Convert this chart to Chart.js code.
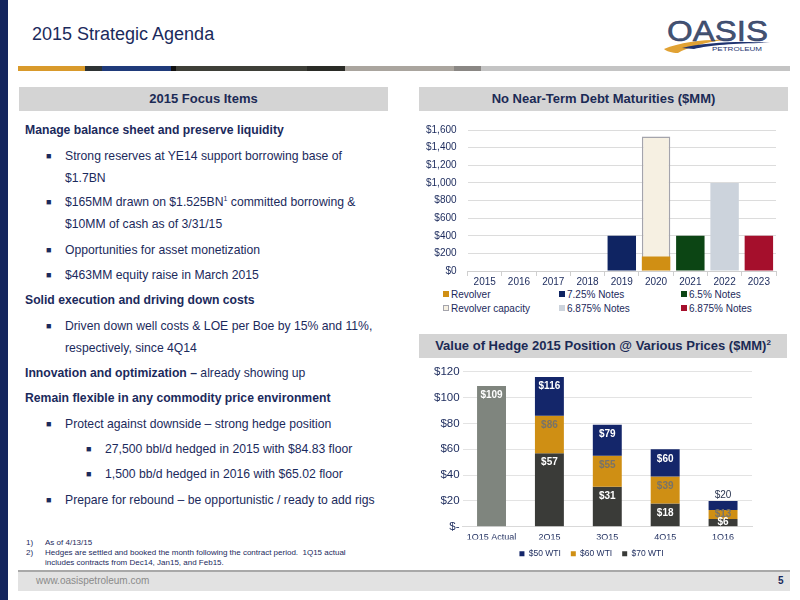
<!DOCTYPE html>
<html>
<head>
<meta charset="utf-8">
<script src="https://cdn.jsdelivr.net/npm/chart.js"></script>
<style>
body{margin:0;width:800px;height:600px;position:relative;background:#fff;overflow:hidden;
  font-family:"Liberation Sans",Arial,sans-serif;color:#1b2a5c}
.abs{position:absolute;white-space:nowrap}
.stripe{left:0;top:0;width:8px;height:600px;background:#14265e}
.title{left:32px;top:24px;font-size:18px;color:#1b2a5c}
.seg{position:absolute;top:66px;height:5px}
.hdr{background:#d4d4d4;height:24px;line-height:24px;text-align:center;font-weight:bold;font-size:13px;color:#1b2a55}
.ln{position:absolute;font-size:12.2px;line-height:16px;white-space:nowrap}
.b{font-weight:bold}
.bul{position:absolute;font-size:9px;line-height:16px}
sup{font-size:7px;line-height:0}
.fn{position:absolute;font-size:8px;line-height:10px;color:#1b2a5c;white-space:nowrap}
.lg{position:absolute;font-size:10px;line-height:12px;color:#1b2a5c;white-space:nowrap}
.lg i{display:inline-block;width:6px;height:6px;margin-right:2px;vertical-align:1px;box-sizing:border-box}
</style>
</head>
<body>
<div class="abs stripe"></div>
<div class="abs title">2015 Strategic Agenda</div>

<svg class="abs" style="left:660px;top:12px" width="130" height="50">
  <path d="M4 37 C 20 30, 50 27, 64 28 C 45 30, 26 36, 18 41 C 12 41, 6 39, 4 37 Z" fill="#e1a234"/>
  <path d="M22 36 C 45 30, 85 29, 110 31 C 80 31, 50 33, 34 37 Z" fill="#1f3370"/>
  <text x="7" y="29" font-family="Liberation Sans, Arial" font-size="29" fill="#46546c" stroke="#1f3370" stroke-width="0.5" textLength="101" lengthAdjust="spacingAndGlyphs">OASIS</text>
  <text x="52" y="39" font-family="Liberation Sans, Arial" font-size="5.5" fill="#1f3370" textLength="50" lengthAdjust="spacingAndGlyphs">PETROLEUM</text>
</svg>

<div class="seg" style="left:18px;width:67px;background:#d99a2b"></div>
<div class="seg" style="left:85px;width:17px;background:#2e3334"></div>
<div class="seg" style="left:102px;width:69px;background:#1f3a7a"></div>
<div class="seg" style="left:171px;width:5px;background:#111"></div>
<div class="seg" style="left:176px;width:131px;background:#3e3f38"></div>
<div class="seg" style="left:307px;width:38px;background:#2a2b26"></div>
<div class="seg" style="left:345px;width:109px;background:#aaa59e"></div>
<div class="seg" style="left:454px;width:27px;background:#8a8784"></div>
<div class="seg" style="left:481px;width:309px;background:#c4c4c4"></div>

<div class="abs hdr" style="left:19px;top:87px;width:369px">2015 Focus Items</div>
<div class="abs hdr" style="left:419px;top:87px;width:369px">No Near-Term Debt Maturities ($MM)</div>
<div class="abs hdr" style="left:419px;top:334px;width:368px">Value of Hedge 2015 Position @ Various Prices ($MM)<sup style="font-size:8px">2</sup></div>

<div class="ln b" style="left:25px;top:122px">Manage balance sheet and preserve liquidity</div>
<div class="bul" style="left:46px;top:148px">■</div>
<div class="ln" style="left:65px;top:148px">Strong reserves at YE14 support borrowing base of</div>
<div class="ln" style="left:65px;top:170px">$1.7BN</div>
<div class="bul" style="left:46px;top:194px">■</div>
<div class="ln" style="left:65px;top:194px">$165MM drawn on $1.525BN<sup>1</sup> committed borrowing &amp;</div>
<div class="ln" style="left:65px;top:216px">$10MM of cash as of 3/31/15</div>
<div class="bul" style="left:46px;top:242px">■</div>
<div class="ln" style="left:65px;top:242px">Opportunities for asset monetization</div>
<div class="bul" style="left:46px;top:267px">■</div>
<div class="ln" style="left:65px;top:267px">$463MM equity raise in March 2015</div>
<div class="ln b" style="left:25px;top:292px">Solid execution and driving down costs</div>
<div class="bul" style="left:46px;top:318px">■</div>
<div class="ln" style="left:65px;top:318px">Driven down well costs &amp; LOE per Boe by 15% and 11%,</div>
<div class="ln" style="left:65px;top:340px">respectively, since 4Q14</div>
<div class="ln" style="left:25px;top:365px"><span class="b">Innovation and optimization –</span> already showing up</div>
<div class="ln b" style="left:25px;top:390px">Remain flexible in any commodity price environment</div>
<div class="bul" style="left:46px;top:416px">■</div>
<div class="ln" style="left:65px;top:416px">Protect against downside – strong hedge position</div>
<div class="bul" style="left:86px;top:441px">■</div>
<div class="ln" style="left:105px;top:441px">27,500 bbl/d hedged in 2015 with $84.83 floor</div>
<div class="bul" style="left:86px;top:466px">■</div>
<div class="ln" style="left:105px;top:466px">1,500 bb/d hedged in 2016 with $65.02 floor</div>
<div class="bul" style="left:46px;top:492px">■</div>
<div class="ln" style="left:65px;top:492px">Prepare for rebound – be opportunistic / ready to add rigs</div>

<div class="fn" style="left:26px;top:538px">1)</div>
<div class="fn" style="left:45px;top:538px">As of 4/13/15</div>
<div class="fn" style="left:26px;top:548px">2)</div>
<div class="fn" style="left:45px;top:548px">Hedges are settled and booked the month following the contract period.&nbsp; 1Q15 actual</div>
<div class="fn" style="left:45px;top:558px">includes contracts from Dec14, Jan15, and Feb15.</div>

<div class="abs" style="left:18px;top:570px;width:772px;height:19px;background:#e2e2e2;border-top:2px solid #a8a8a8"></div>
<div class="abs" style="left:36px;top:575px;font-size:10px;color:#8a8a8a">www.oasispetroleum.com</div>
<div class="abs" style="left:778px;top:575px;font-size:10px;font-weight:bold;color:#1b2a5c">5</div>

<div class="abs" style="left:415px;top:113px;width:380px;height:175px"><canvas id="debt"></canvas></div>
<div id="debtLegend"></div>
<div class="abs" style="left:415px;top:362px;width:345px;height:206px"><canvas id="hedge"></canvas></div>

<script>
// Vencimientos de deuda ($MM)
const years = ['2015','2016','2017','2018','2019','2020','2021','2022','2023'];
const revolver         = [null,null,null,null,null,165,null,null,null];
const revolverCapacity = [null,null,null,null,null,1525,null,null,null];
const notes725         = [null,null,null,null,400,null,null,null,null];
const notes65          = [null,null,null,null,null,null,400,null,null];
const notes6875a       = [null,null,null,null,null,null,null,1000,null];
const notes6875b       = [null,null,null,null,null,null,null,null,400];
const debtTicks = [0,200,400,600,800,1000,1200,1400,1600];

// Valor de coberturas ($MM), valores acumulados por escenario
const quarters = ['1Q15 Actual','2Q15','3Q15','4Q15','1Q16'];
const actual = [109,null,null,null,null];
const wti70 = [null,57,31,18,6];
const wti60 = [null,86,55,39,13];
const wti50 = [null,116,79,60,20];

const navyTxt = '#1b2a5c';
const font = 'Liberation Sans, Arial, sans-serif';

const debtSets = [
  {label:'Revolver', data:revolver, backgroundColor:'#d08f14'},
  {label:'Revolver capacity', data:revolverCapacity, backgroundColor:'#f6f0e2', borderColor:'#a4a4ac', borderWidth:1.5},
  {label:'7.25% Notes', data:notes725, backgroundColor:'#0f2462'},
  {label:'6.5% Notes', data:notes65, backgroundColor:'#0c4514'},
  {label:'6.875% Notes', data:notes6875a, backgroundColor:'#ccd3dc'},
  {label:'6.875% Notes', data:notes6875b, backgroundColor:'#a50f2c'}
];

new Chart(document.getElementById('debt'), {
  type:'bar',
  data:{labels:years, datasets:debtSets.map(d => Object.assign({barPercentage:0.83, categoryPercentage:1}, d))},
  options:{
    responsive:true, maintainAspectRatio:false, animation:false,
    layout:{padding:{top:4,right:19,bottom:0,left:0}},
    plugins:{legend:{display:false}, tooltip:{enabled:false}},
    scales:{
      x:{stacked:true,
         grid:{display:true, drawOnChartArea:false, offset:true, tickLength:5, color:'#cfcfcf'},
         border:{color:'#cfcfcf'},
         ticks:{color:navyTxt, font:{family:font,size:10}, padding:0}},
      y:{stacked:false, min:0, max:1600,
         afterBuildTicks: ax => { ax.ticks = debtTicks.map(v => ({value:v})); },
         grid:{color:'#dcdcdc', drawTicks:false},
         border:{display:false},
         ticks:{color:navyTxt, font:{family:font,size:10}, padding:11,
                callback: v => '$' + v.toLocaleString('en-US')}}
    }
  }
});

// leyenda en 3 columnas, como en la lámina
const legOrder = [0,2,3,1,4,5];
const legPos = [[443,289],[559,289],[681,289],[443,303],[559,303],[681,303]];
document.getElementById('debtLegend').innerHTML = legOrder.map((k,i) => {
  const d = debtSets[k];
  const box = d.borderColor ? `background:${d.backgroundColor};border:1px solid ${d.borderColor}` : `background:${d.backgroundColor}`;
  return `<div class="lg" style="left:${legPos[i][0]}px;top:${legPos[i][1]}px"><i style="${box}"></i>${d.label}</div>`;
}).join('');

const hedgeLabels = {
  id:'hedgeLabels',
  afterDatasetsDraw(chart){
    const ctx = chart.ctx;
    ctx.save();
    ctx.textAlign = 'center';
    ctx.textBaseline = 'middle';
    chart.data.datasets.forEach((ds, di) => {
      const meta = chart.getDatasetMeta(di);
      meta.data.forEach((el, i) => {
        const top = ds.tops[i];
        if (top == null) return;
        const h = el.base - el.y;
        let y = el.y + Math.min(9.5, h/2);
        ctx.font = 'bold 10px ' + font;
        ctx.fillStyle = ds.labelColor;
        if (ds.above && h < 14) {
          y = el.y - 6;
          ctx.font = '10px ' + font;
          ctx.fillStyle = '#2a3550';
        }
        ctx.fillText('$' + top, el.x, y);
      });
    });
    ctx.restore();
  }
};

const pairs = (lo, hi) => hi.map((v,i) => v == null ? null : [lo ? lo[i] : 0, v]);

new Chart(document.getElementById('hedge'), {
  type:'bar',
  data:{labels:quarters, datasets:[
    {label:'$50 WTI', data:pairs(wti60, wti50), tops:wti50, backgroundColor:'#14266a', labelColor:'#fff', above:true},
    {label:'$60 WTI', data:pairs(wti70, wti60), tops:wti60, backgroundColor:'#cf8f14', labelColor:'#77736a'},
    {label:'$70 WTI', data:pairs(null, wti70), tops:wti70, backgroundColor:'#3a3b38', labelColor:'#fff'},
    {label:'Actual', data:pairs(null, actual), tops:actual, backgroundColor:'#7f857e', labelColor:'#fff'}
  ].map(d => Object.assign({barPercentage:0.5, categoryPercentage:1}, d))},
  options:{
    responsive:true, maintainAspectRatio:false, animation:false,
    layout:{padding:{top:6,right:8,bottom:0,left:16}},
    plugins:{
      tooltip:{enabled:false},
      legend:{position:'bottom',
        labels:{filter: it => it.text !== 'Actual', boxWidth:5, boxHeight:5, padding:10,
                color:navyTxt, font:{family:font,size:8.5}}}
    },
    scales:{
      x:{stacked:true, grid:{display:false}, border:{color:'#d9d9d9'},
         ticks:{color:navyTxt, font:{family:font,size:9}, padding:-3}},
      y:{stacked:false, min:0, max:120,
         ticks:{stepSize:20, color:navyTxt, font:{family:font,size:11.5}, padding:3,
                callback: v => v === 0 ? '$-' : '$' + v},
         grid:{color:'#e3e3e3', drawTicks:false}, border:{display:false}}
    }
  },
  plugins:[hedgeLabels]
});
</script>
</body>
</html>
